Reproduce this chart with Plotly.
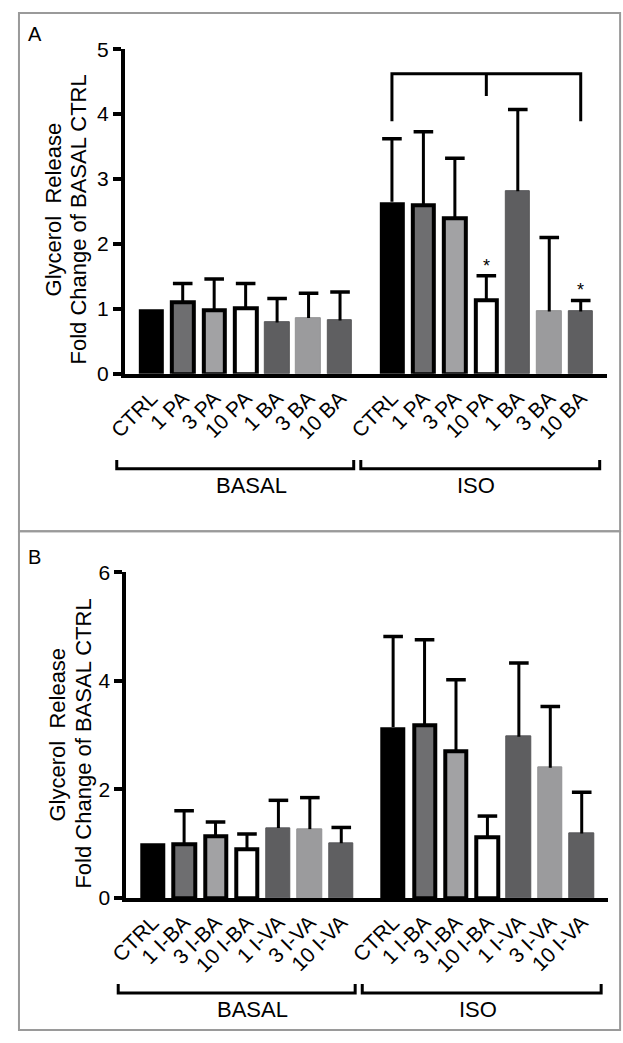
import plotly.graph_objects as go

W, H = 623, 1043

# panel A
labels_a = ["CTRL", "1 PA", "3 PA", "10 PA", "1 BA", "3 BA", "10 BA"]
basal_a = [1.0, 1.11, 0.98, 1.01, 0.79, 0.86, 0.82]
basal_err_a = [0.0, 0.28, 0.48, 0.38, 0.37, 0.38, 0.44]
iso_a = [2.65, 2.60, 2.40, 1.14, 2.81, 0.96, 0.96]
iso_err_a = [0.97, 1.13, 0.92, 0.37, 1.26, 1.14, 0.17]
stars_a = [False, False, False, True, False, False, True]

# panel B
labels_b = ["CTRL", "1 I-BA", "3 I-BA", "10 I-BA", "1 I-VA", "3 I-VA", "10 I-VA"]
basal_b = [1.0, 0.99, 1.13, 0.90, 1.29, 1.27, 1.01]
basal_err_b = [0.0, 0.62, 0.27, 0.28, 0.51, 0.58, 0.29]
iso_b = [3.15, 3.19, 2.70, 1.12, 2.97, 2.40, 1.19]
iso_err_b = [1.67, 1.57, 1.32, 0.39, 1.36, 1.13, 0.76]

groups = ["BASAL", "ISO"]

# bar styles, one per treatment (fill, outline, outline width, bar width)
styles = [
    ("#000000", "#000000", 0, 0.80),
    ("#6e6e70", "#000000", 4, 0.68),
    ("#a2a2a4", "#000000", 4, 0.68),
    ("#ffffff", "#000000", 4, 0.68),
    ("#5e5e60", "#575759", 1, 0.78),
    ("#9b9b9d", "#929294", 1, 0.78),
    ("#5f5f61", "#575759", 1, 0.78),
]

x_basal = [i for i in range(7)]
x_iso = [7.65 + i for i in range(7)]
xpos = x_basal + x_iso
xrange = [-0.84, 14.5]
FONT = "Liberation Sans, Arial, sans-serif"


def px(x):
    return x / W


def py(y):
    return 1 - y / H


fig = go.Figure()


def add_panel(xa, ya, labels, basal, basal_err, iso, iso_err):
    vals = basal + iso
    errs = basal_err + iso_err
    st = styles + styles
    fig.add_trace(go.Bar(
        x=xpos, y=vals, xaxis=xa, yaxis=ya,
        width=[s[3] for s in st],
        marker=dict(color=[s[0] for s in st],
                    line=dict(color=[s[1] for s in st], width=[s[2] for s in st])),
        showlegend=False,
    ))
    # one-sided error bars
    ex, ey, cx, cy = [], [], [], []
    for x, v, e in zip(xpos, vals, errs):
        if e <= 0:
            continue
        ex += [x, x, None]
        ey += [v, v + e, None]
        cx.append(x)
        cy.append(v + e)
    fig.add_trace(go.Scatter(x=ex, y=ey, mode="lines", xaxis=xa, yaxis=ya,
                             line=dict(color="black", width=3), showlegend=False))
    fig.add_trace(go.Scatter(x=cx, y=cy, mode="markers", xaxis=xa, yaxis=ya,
                             marker=dict(symbol="line-ew", size=14,
                                         line=dict(color="black", width=3.5)),
                             showlegend=False))


add_panel("x", "y", labels_a, basal_a, basal_err_a, iso_a, iso_err_a)
add_panel("x2", "y2", labels_b, basal_b, basal_err_b, iso_b, iso_err_b)

xaxis_common = dict(range=xrange, showline=True, linewidth=4, linecolor="black",
                    ticks="", showgrid=False, zeroline=False, tickangle=-45,
                    tickvals=xpos, tickfont=dict(size=21, color="black", family=FONT))
yaxis_common = dict(showline=True, linewidth=4, linecolor="black", ticks="outside",
                    ticklen=8, tickwidth=4, tickcolor="black", showgrid=False,
                    zeroline=False, tickfont=dict(size=21, color="black", family=FONT))

fig.update_layout(
    width=W, height=H,
    margin=dict(l=0, r=0, t=0, b=0),
    paper_bgcolor="white", plot_bgcolor="white",
    bargap=0,
    font=dict(family=FONT, color="black"),
    xaxis=dict(xaxis_common, domain=[px(110), px(607)], anchor="y",
               ticktext=labels_a + labels_a),
    yaxis=dict(yaxis_common, domain=[py(370), py(38)], anchor="x",
               range=[0, 5], tickvals=[0, 1, 2, 3, 4, 5]),
    xaxis2=dict(xaxis_common, domain=[px(111.5), px(608)], anchor="y2",
                ticktext=labels_b + labels_b),
    yaxis2=dict(yaxis_common, domain=[py(906), py(573)], anchor="x2",
                range=[0, 6], tickvals=[0, 2, 4, 6]),
)

shapes = []
annotations = []


def note(x, y, text, size, angle=0):
    annotations.append(dict(x=px(x), y=py(y), xref="paper", yref="paper", text=text,
                            textangle=angle, showarrow=False, xanchor="center",
                            yanchor="middle", font=dict(size=size, color="black")))


# panel frames
for y0, y1 in [(1, 531), (531, 1041)]:
    shapes.append(dict(type="rect", xref="paper", yref="paper",
                       x0=px(1), x1=px(620), y0=py(y1), y1=py(y0),
                       line=dict(color="#9a9a9a", width=2)))

# significance bracket over ISO in panel A
left, right = x_iso[0], x_iso[-1]
mid = (left + right) / 2
shapes.append(dict(type="path", xref="x", yref="y",
                   path=f"M {left},3.89 L {left},4.62 L {right},4.62 L {right},3.89 "
                        f"M {mid},4.62 L {mid},4.28",
                   line=dict(color="black", width=3)))
for x, v, e, s in zip(x_iso, iso_a, iso_err_a, stars_a):
    if s:
        annotations.append(dict(x=x, y=v + e, xref="x", yref="y", text="*",
                                showarrow=False, yanchor="bottom", yshift=-2,
                                font=dict(size=18, color="black")))

# group brackets and labels under each panel
for base, gx in [(370, 0), (906, 1.5)]:
    top = base + 88
    bot = base + 97
    for (a, b), name, cx in zip([(101.7 + gx, 345.7 + gx), (353 + gx, 599 + gx)],
                                groups, [240 + gx, 472 + gx]):
        shapes.append(dict(type="path", xref="paper", yref="paper",
                           path=f"M {px(a)},{py(top)} L {px(a)},{py(bot)} "
                                f"L {px(b)},{py(bot)} L {px(b)},{py(top)}",
                           line=dict(color="black", width=3)))
        note(cx, base + 114, name, 22)

# y-axis titles
for cy1, cy2, lx1, lx2 in [(202, 212, 37, 62), (739, 748, 41, 67)]:
    note(lx1, cy1, "Glycerol  Release", 22, -90)
    note(lx2, cy2, "Fold Change of BASAL CTRL", 22, -90)

# panel letters
note(17, 22, "A", 20)
note(17, 557, "B", 20)

fig.update_layout(shapes=shapes, annotations=annotations)

# drop the default page margin so the figure sits at the window origin
fig.write_html("out.html", config={"displayModeBar": False},
               post_script="document.body.style.margin='0';")
